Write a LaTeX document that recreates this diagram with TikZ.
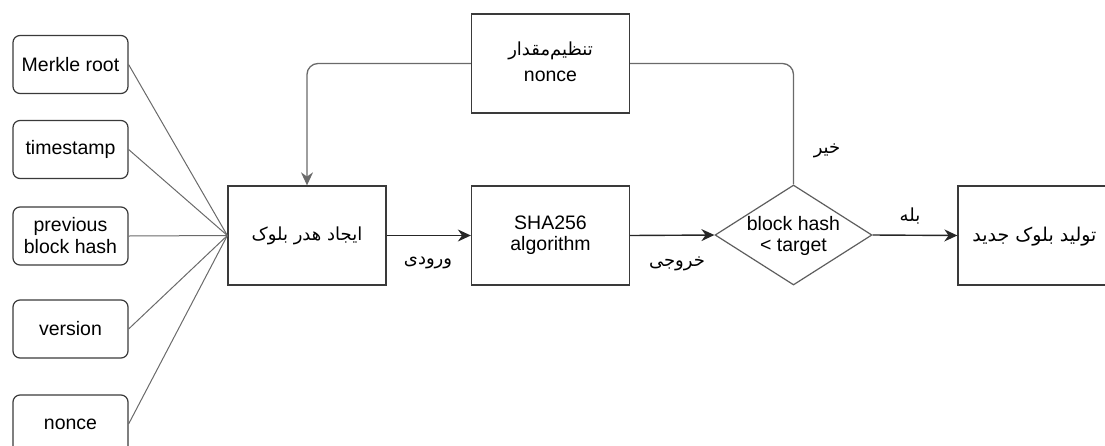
\documentclass[tikz,border=0pt]{standalone}
\usepackage{fontspec}
\setmainfont{Liberation Sans}
\newfontfamily\fa[Script=Arabic]{DejaVu Sans}
\TeXXeTstate=1
\usetikzlibrary{arrows.meta,shapes.geometric}
\definecolor{boxline}{HTML}{3A3A3A}
\definecolor{wire}{HTML}{6A6A6A}
\definecolor{dline}{HTML}{5E5E5E}
\begin{document}
\begin{tikzpicture}[x=1pt,y=-1pt,
  every node/.style={font=\fontsize{19.5}{22}\selectfont},
  field/.style={draw=boxline,line width=1.2pt,rounded corners=7pt,minimum width=115pt,minimum height=58pt,inner sep=0pt,align=center},
  proc/.style={draw=boxline,line width=1.3pt,minimum width=158pt,minimum height=99pt,inner sep=0pt,align=center},
  decision/.style={draw=dline,line width=1.2pt,diamond,minimum width=157pt,minimum height=100pt,inner sep=0pt},
  wireline/.style={draw=wire,line width=1pt},
  tip/.style={-{Stealth[length=13pt,width=12pt]}},
  flow/.style={draw=black!85,line width=1.4pt,tip},
  loopline/.style={draw=wire,line width=1.3pt,rounded corners=11pt},
  fatext/.style={font=\fa\fontsize{18}{21}\selectfont}
]
\useasboundingbox (0,0) rectangle (1105,445);
\begin{scope}
\clip (0,0) rectangle (1105,445);

% header fields
\node[field] (merkle) at (70.5,64.5) {Merkle root};
\node[field] (time) at (70.5,149.5) {timestamp};
\node[field] (prev) at (70.5,236) {previous\\block hash};
\node[field] (ver) at (70.5,329) {version};
\node[field] (non) at (70.5,424) {nonce};

% main process boxes
\node[proc] (hdr) at (307,235.5) {};
\node[fatext] at (hdr) {\beginR ایجاد هدر بلوک\endR};
\node[proc] (sha) at (550.5,235.5) {SHA256\\[-1pt]algorithm};
\node[proc] (set) at (550.5,63.5) {};
\node[fatext] at (550.5,51) {\beginR تنظیم‌مقدار\endR};
\node at (550.5,76.5) {nonce};
\node[decision] (dec) at (793.5,235) {};
\node[align=center] at (793.5,236) {block hash\\[-1pt]< target};
\node[proc,minimum width=200pt] (new) at (1058,235.5) {};
\node[fatext,font=\fa\fontsize{19}{22}\selectfont,anchor=east] at (1100,237) {\beginR تولید بلوک جدید\endR};

% fields joined at the header box
\foreach \f in {merkle,time,prev,ver,non}
  \draw[wireline] (\f.east) -- (hdr.west);

% flow arrows
\draw[flow] (hdr.east) -- (sha.west);
\draw[flow] (sha.east) -- (dec.west);
\draw[flow] (dec.east) -- (new.west);

% retry loop
\draw[loopline,tip] (set.west) -| (hdr.north);
\draw[loopline] (set.east) -| (dec.north);

% edge labels
\node[fatext] at (428,263) {\beginR ورودی\endR};
\node[fatext] at (677,264) {\beginR خروجی\endR};
\node[fatext] at (827,151) {\beginR خیر\endR};
\node[fatext] at (910,216) {\beginR بله\endR};
\end{scope}
\end{tikzpicture}
\end{document}
